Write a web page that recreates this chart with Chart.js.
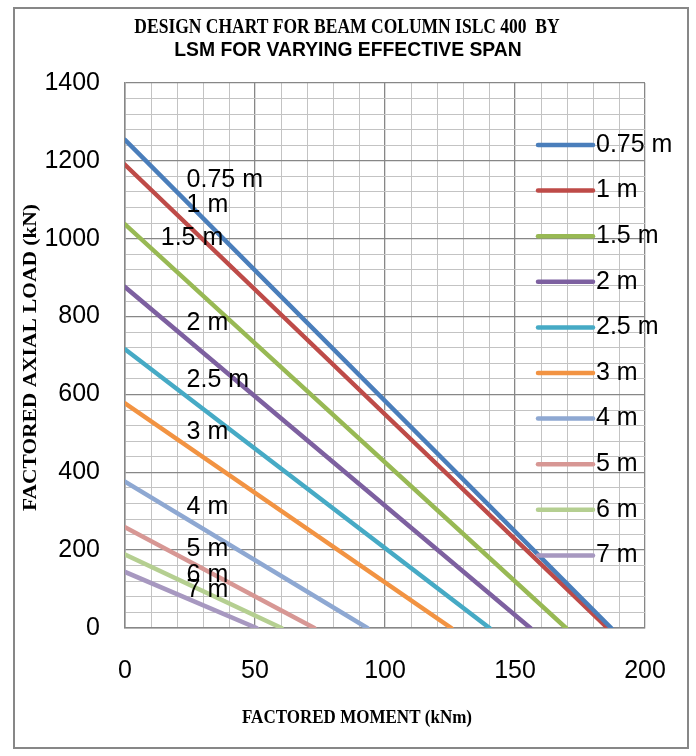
<!DOCTYPE html>
<html><head><meta charset="utf-8">
<script src="https://cdn.jsdelivr.net/npm/chart.js@4.4.0/dist/chart.umd.min.js"></script>
<style>html,body{margin:0;padding:0;background:#fff}canvas{display:block}</style>
</head><body>
<canvas id="c" width="696" height="756"></canvas>
<script>
// ---- data ----
const spans = ['0.75 m','1 m','1.5 m','2 m','2.5 m','3 m','4 m','5 m','6 m','7 m'];
const axialAtZeroMoment = [1254, 1190, 1037, 876, 716, 577, 376, 259, 189, 144]; // kN
const momentAtZeroAxial = [187, 185.6, 169.6, 155.9, 140.2, 125.5, 93.2, 72.8, 60.2, 50.6]; // kNm
const xTickLabels = [0, 50, 100, 150, 200];
const yTickLabels = [0, 200, 400, 600, 800, 1000, 1200, 1400];
const titleLines = ['DESIGN CHART FOR BEAM COLUMN ISLC 400  BY', 'LSM FOR VARYING EFFECTIVE SPAN'];
const xTitle = 'FACTORED MOMENT (kNm)';
const yTitle = 'FACTORED AXIAL LOAD (kN)';

// ---- styling ----
const lineColors = ['#4A7EBB','#BE4B48','#98B954','#7D60A0','#46AAC5','#F29342','#8EA8D2','#D79794','#B5CF91','#A798C0'];
const MAJOR = '#878787', MINOR = '#C3C3C3';
const SANS = '"Liberation Sans", Arial, sans-serif';
const SERIF = '"Liberation Serif", "Times New Roman", serif';
// in-plot label anchors (data units)
const labelAnchorX = [23.7, 23.7, 13.75, 23.7, 23.7, 23.7, 23.7, 23.7, 23.7, 23.7];
const labelAnchorY = [1151, 1087, 1002, 784, 637, 503, 310, 202, 135, 97];

const datasets = spans.map((s, i) => ({
  label: s,
  data: [{x: 0, y: axialAtZeroMoment[i]}, {x: momentAtZeroAxial[i], y: 0}],
  borderColor: lineColors[i],
  backgroundColor: lineColors[i],
  borderWidth: 4.5,
  borderCapStyle: 'round',
  pointRadius: 0,
  showLine: true,
  fill: false,
  tension: 0
}));

function stretchedText(ctx, text, x, y, font, sx) {
  ctx.save();
  ctx.translate(x, y);
  ctx.scale(sx, 1);
  ctx.font = font;
  ctx.fillText(text, 0, 0);
  ctx.restore();
}

const decor = {
  id: 'decor',
  beforeDraw(chart) {
    const ctx = chart.ctx;
    ctx.save();
    ctx.fillStyle = '#fff';
    ctx.fillRect(0, 0, chart.width, chart.height);
    ctx.strokeStyle = MAJOR;
    ctx.lineWidth = 2;
    ctx.strokeRect(14, 8, 674, 740);
    ctx.restore();
  },
  afterDraw(chart) {
    const ctx = chart.ctx, xs = chart.scales.x, ys = chart.scales.y;
    ctx.save();
    ctx.fillStyle = '#000';
    // title
    ctx.textAlign = 'center';
    ctx.textBaseline = 'middle';
    stretchedText(ctx, titleLines[0], 347, 28, 'bold 20px ' + SERIF, 0.875);
    stretchedText(ctx, titleLines[1], 348, 50, 'bold 21px ' + SANS, 0.92);
    // axis titles
    stretchedText(ctx, xTitle, 357, 718, 'bold 18.5px ' + SERIF, 0.92);
    ctx.save();
    ctx.translate(31, (chart.chartArea.top + chart.chartArea.bottom) / 2 + 2);
    ctx.rotate(-Math.PI / 2);
    ctx.scale(1.19, 1);
    ctx.font = 'bold 18px ' + SERIF;
    ctx.fillText(yTitle, 0, 0);
    ctx.restore();
    // in-plot series labels
    ctx.textAlign = 'left';
    ctx.font = '25px ' + SANS;
    spans.forEach((s, i) => {
      ctx.fillText(s, xs.getPixelForValue(labelAnchorX[i]), ys.getPixelForValue(labelAnchorY[i]));
    });
    // legend
    const lx0 = 538, lx1 = 593, ly0 = 145, step = 45.6;
    spans.forEach((s, i) => {
      const y = ly0 + i * step;
      ctx.strokeStyle = lineColors[i];
      ctx.lineWidth = 4.5;
      ctx.lineCap = 'round';
      ctx.beginPath(); ctx.moveTo(lx0, y); ctx.lineTo(lx1, y); ctx.stroke();
      ctx.fillStyle = '#000';
      ctx.fillText(s, lx1 + 3, y);
    });
    ctx.restore();
  }
};

new Chart(document.getElementById('c'), {
  type: 'scatter',
  data: { datasets },
  options: {
    responsive: false,
    animation: false,
    devicePixelRatio: 1,
    layout: { padding: { top: 83, right: 51, left: 0, bottom: 0 } },
    plugins: { legend: { display: false }, title: { display: false }, tooltip: { enabled: false } },
    scales: {
      x: {
        type: 'linear', min: 0, max: 200,
        afterFit: s => { s.height = 128; },
        border: { color: MAJOR, width: 1.5 },
        grid: {
          drawTicks: false,
          color: c => (c.tick && c.tick.value % 50 === 0) ? MAJOR : MINOR,
          lineWidth: c => (c.tick && c.tick.value % 50 === 0) ? 1.3 : 1
        },
        ticks: {
          stepSize: 10, autoSkip: false, maxRotation: 0, padding: 28,
          color: '#000', font: { family: SANS, size: 25 },
          callback: v => xTickLabels.includes(v) ? String(v) : ''
        }
      },
      y: {
        type: 'linear', min: 0, max: 1400,
        afterFit: s => { s.width = 125; },
        border: { color: MAJOR, width: 1.5 },
        grid: {
          drawTicks: false,
          color: c => (c.tick && c.tick.value % 200 === 0) ? MAJOR : MINOR,
          lineWidth: c => (c.tick && c.tick.value % 200 === 0) ? 1.3 : 1
        },
        ticks: {
          stepSize: 40, autoSkip: false, padding: 25,
          color: '#000', font: { family: SANS, size: 25 },
          callback: v => yTickLabels.includes(v) ? String(v) : ''
        }
      }
    }
  },
  plugins: [decor]
});
</script>
</body></html>
